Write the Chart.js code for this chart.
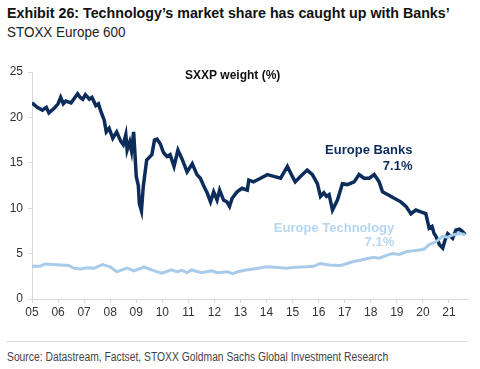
<!DOCTYPE html>
<html lang="en">
  <head>
    <meta charset="UTF-8">
    <title>Technology's market share has caught up with Banks</title>
    <script src="https://cdn.jsdelivr.net/npm/chart.js"></script>
    <style>
      body {
        margin: 0;
        padding: 0;
        background: #ffffff;
        width: 480px;
        height: 369px;
        position: relative;
        overflow: hidden;
        font-family: "Liberation Sans Narrow", "Liberation Sans", Arial, sans-serif;
      }
      .title {
        position: absolute;
        left: 7px;
        top: 4px;
        font-size: 15px;
        font-weight: bold;
        color: #111;
        white-space: nowrap;
        transform: scaleX(0.95);
        transform-origin: left top;
      }
      .subtitle {
        position: absolute;
        left: 7px;
        top: 24px;
        font-size: 14px;
        color: #222;
        transform: scaleX(0.96);
        transform-origin: left top;
      }
      .chart-box {
        position: absolute;
        left: 0;
        top: 50px;
        width: 480px;
        height: 270px;
      }
      .rule {
        position: absolute;
        left: 7px;
        width: 461px;
        top: 341px;
        border-top: 1px solid #dcdcdc;
      }
      .source {
        position: absolute;
        left: 7px;
        top: 350px;
        font-size: 12px;
        color: #444;
        white-space: nowrap;
        transform: scaleX(0.86);
        transform-origin: left top;
      }
    </style>
  </head>
  <body>
    <div class="title">Exhibit 26: Technology’s market share has caught up with Banks’</div>
    <div class="subtitle">STOXX Europe 600</div>
    <div class="chart-box">
      <canvas id="weightChart" width="480" height="270"></canvas>
    </div>
    <div class="rule"></div>
    <div class="source">Source: Datastream, Factset, STOXX Goldman Sachs Global Investment Research</div>

    <script>
      // data (x = year, y = weight in %)
      const banksYears = [2005.0, 2005.2, 2005.4, 2005.55, 2005.65, 2005.85, 2006.0, 2006.1, 2006.2, 2006.3,
        2006.5, 2006.6, 2006.75, 2006.85, 2006.95, 2007.05, 2007.2, 2007.3, 2007.45, 2007.55,
        2007.65, 2007.77, 2007.85, 2007.96, 2008.1, 2008.25, 2008.4, 2008.5, 2008.6, 2008.65,
        2008.75, 2008.82, 2008.9, 2008.95, 2009.0, 2009.08, 2009.12, 2009.2, 2009.27, 2009.4,
        2009.5, 2009.6, 2009.7, 2009.8, 2009.92, 2010.05, 2010.18, 2010.3, 2010.45, 2010.6,
        2010.76, 2010.95, 2011.15, 2011.33, 2011.46, 2011.6, 2011.72, 2011.85, 2011.97, 2012.1,
        2012.2, 2012.35, 2012.48, 2012.58, 2012.68, 2012.87, 2013.06, 2013.26, 2013.32, 2013.5,
        2013.77, 2014.03, 2014.28, 2014.54, 2014.8, 2014.99, 2015.1, 2015.3, 2015.56, 2015.76,
        2015.95, 2016.07, 2016.2, 2016.3, 2016.4, 2016.53, 2016.72, 2016.91, 2017.1, 2017.36,
        2017.55, 2017.74, 2017.94, 2018.13, 2018.32, 2018.45, 2018.64, 2018.9, 2019.15, 2019.35,
        2019.54, 2019.73, 2019.92, 2020.11, 2020.24, 2020.35, 2020.43, 2020.5, 2020.63, 2020.76,
        2020.85, 2020.95, 2021.14, 2021.27, 2021.4, 2021.53, 2021.62];
      const banksWeight = [21.6, 21.1, 20.8, 21.1, 20.5, 21.0, 21.5, 22.2, 21.5, 21.8,
        21.6, 22.0, 22.6, 22.2, 22.0, 22.5, 22.0, 22.2, 21.3, 21.5,
        20.6, 19.7, 18.4, 18.8, 17.7, 18.4, 17.4, 17.0, 18.1, 16.4,
        17.3, 16.3, 18.4, 16.0, 13.5, 12.5, 10.5, 9.7, 12.4, 15.3,
        15.6, 15.9, 17.5, 17.6, 17.1, 16.1, 15.7, 15.9, 14.6, 16.4,
        15.4, 14.0, 14.9, 13.7, 13.3, 12.4, 11.7, 10.7, 11.8, 10.9,
        12.0, 10.9, 10.7, 10.2, 11.1, 11.8, 12.2, 12.0, 13.1, 12.9,
        13.3, 13.7, 13.5, 13.3, 14.6, 13.5, 12.9, 13.5, 14.2, 13.7,
        12.7, 11.3, 11.7, 11.3, 11.5, 9.8, 10.9, 12.7, 12.6, 12.9,
        13.7, 13.3, 13.3, 13.7, 12.9, 11.8, 11.5, 11.1, 10.7, 10.2,
        9.4, 9.8, 9.6, 9.4, 7.8, 8.0, 7.2, 6.9, 6.0, 5.6,
        6.5, 7.2, 6.7, 7.6, 7.7, 7.4, 7.1];

      const techYears = [2005.0, 2005.3, 2005.5, 2005.8, 2006.1, 2006.4, 2006.6, 2006.85, 2007.1, 2007.4,
        2007.7, 2008.0, 2008.25, 2008.45, 2008.65, 2008.9, 2009.1, 2009.3, 2009.5, 2009.7,
        2009.97, 2010.15, 2010.35, 2010.55, 2010.75, 2010.95, 2011.13, 2011.3, 2011.5, 2011.7,
        2011.9, 2012.1, 2012.3, 2012.5, 2012.7, 2012.9, 2013.2, 2013.5, 2014.0, 2014.3,
        2014.77, 2015.1, 2015.54, 2015.8, 2016.05, 2016.4, 2016.85, 2017.3, 2017.8, 2018.1,
        2018.33, 2018.6, 2018.83, 2019.1, 2019.35, 2019.6, 2019.86, 2020.05, 2020.24, 2020.5,
        2020.76, 2020.95, 2021.14, 2021.4, 2021.62];
      const techWeight = [3.6, 3.6, 3.85, 3.8, 3.75, 3.7, 3.4, 3.3, 3.45, 3.4,
        3.8, 3.55, 3.0, 3.2, 3.4, 3.1, 3.3, 3.55, 3.3, 3.1,
        2.85, 3.0, 3.2, 3.0, 3.15, 2.9, 3.2, 3.05, 2.9, 3.0,
        3.1, 2.9, 2.95, 3.0, 2.8, 3.0, 3.2, 3.3, 3.55, 3.5,
        3.4, 3.5, 3.55, 3.6, 3.9, 3.75, 3.7, 4.1, 4.4, 4.6,
        4.5, 4.8, 5.0, 4.9, 5.2, 5.3, 5.4, 5.5, 6.0, 6.3,
        6.9, 6.8, 7.05, 7.2, 7.1];

      const yTicks = [0, 5, 10, 15, 20, 25];
      const lastBanks = '7.1%';
      const lastTech = '7.1%';

      const navy = '#0c2d5b';
      const lightBlue = '#a9cbea';
      const labelBlue = '#b7d5ef';

      function toPoints(xs, ys) {
        return xs.map((x, i) => ({ x: x, y: ys[i] }));
      }

      // text labels placed in data units
      const notes = [
        { text: 'SXXP weight (%)', x: 2012.7, y: 24.6, color: '#111', align: 'center', size: 12 },
        { text: 'Europe Banks', x: 2019.6, y: 16.4, color: navy, align: 'right', size: 13 },
        { text: lastBanks, x: 2019.6, y: 14.6, color: navy, align: 'right', size: 13 },
        { text: 'Europe Technology', x: 2018.9, y: 7.8, color: labelBlue, align: 'right', size: 13 },
        { text: lastTech, x: 2018.9, y: 6.2, color: labelBlue, align: 'right', size: 13 },
      ];

      const notesPlugin = {
        id: 'notes',
        afterDatasetsDraw(chart) {
          const ctx = chart.ctx;
          const xs = chart.scales.x;
          const ys = chart.scales.y;
          ctx.save();
          notes.forEach(n => {
            ctx.font = 'bold ' + n.size + 'px "Liberation Sans", Arial, sans-serif';
            ctx.fillStyle = n.color;
            ctx.textAlign = n.align;
            ctx.textBaseline = 'middle';
            ctx.fillText(n.text, xs.getPixelForValue(n.x), ys.getPixelForValue(n.y));
          });
          ctx.restore();
        }
      };

      const ctx = document.getElementById('weightChart').getContext('2d');
      new Chart(ctx, {
        type: 'line',
        data: {
          datasets: [
            {
              label: 'Europe Technology',
              data: toPoints(techYears, techWeight),
              borderColor: lightBlue,
              borderWidth: 3,
              pointRadius: 0,
              tension: 0,
            },
            {
              label: 'Europe Banks',
              data: toPoints(banksYears, banksWeight),
              borderColor: navy,
              borderWidth: 3.5,
              pointRadius: 0,
              tension: 0,
            },
          ],
        },
        options: {
          responsive: false,
          animation: false,
          layout: { padding: { top: 22, right: 12, left: 0, bottom: 0 } },
          plugins: {
            legend: { display: false },
            tooltip: { enabled: false },
          },
          scales: {
            x: {
              type: 'linear',
              min: 2005,
              max: 2021.73,
              afterFit: s => { s.height = 21; },
              afterBuildTicks: s => {
                s.ticks = [];
                for (let yr = 2005; yr <= 2021; yr++) s.ticks.push({ value: yr });
              },
              ticks: {
                color: '#333',
                font: { size: 12, family: '"Liberation Sans", Arial, sans-serif' },
                padding: 2,
                maxRotation: 0,
                autoSkip: false,
                callback: v => String(v).slice(2),
              },
              grid: { drawOnChartArea: false, tickLength: 4, color: '#d9d9d9' },
              border: { color: '#d9d9d9' },
            },
            y: {
              min: 0,
              max: 25,
              afterFit: s => { s.width = 32; },
              afterBuildTicks: s => { s.ticks = yTicks.map(v => ({ value: v })); },
              ticks: {
                color: '#333',
                font: { size: 12, family: '"Liberation Sans", Arial, sans-serif' },
                padding: 5,
              },
              grid: { drawOnChartArea: false, tickLength: 4, color: '#d9d9d9' },
              border: { color: '#d9d9d9' },
            },
          },
        },
        plugins: [notesPlugin],
      });
    </script>
  </body>
</html>
